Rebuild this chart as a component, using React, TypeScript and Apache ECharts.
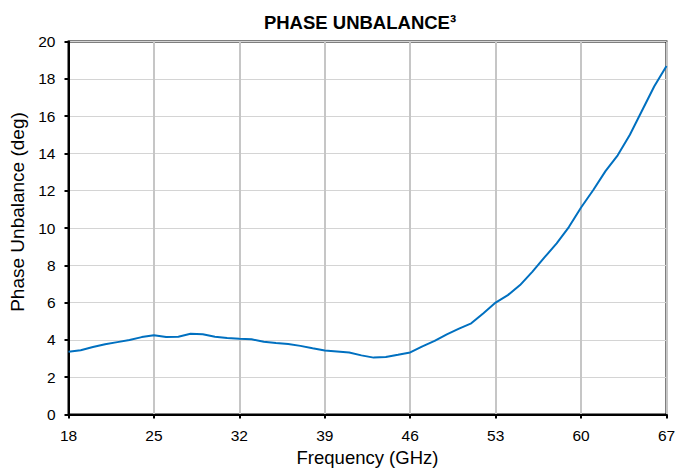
import React, { useEffect, useRef } from "react";
import * as echarts from "echarts";

const FREQ_MIN = 18;
const FREQ_MAX = 67;
const FREQ_STEP = 7;
const Y_MIN = 0;
const Y_MAX = 20;
const Y_STEP = 2;

const freqGHz = [
  18, 19, 20, 21, 22, 23, 24, 25, 26, 27, 28, 29, 30, 31, 32, 33, 34, 35, 36, 37,
  38, 39, 40, 41, 42, 43, 44, 45, 46, 47, 48, 49, 50, 51, 52, 53, 54, 55, 56, 57,
  58, 59, 60, 61, 62, 63, 64, 65, 66, 67,
];
const phaseUnbalanceDeg = [
  3.37, 3.45, 3.62, 3.77, 3.88, 3.99, 4.15, 4.25, 4.15, 4.17, 4.33, 4.3, 4.17, 4.1,
  4.06, 4.03, 3.9, 3.83, 3.78, 3.68, 3.55, 3.43, 3.38, 3.32, 3.17, 3.05, 3.08, 3.2,
  3.33, 3.65, 3.95, 4.3, 4.6, 4.89, 5.43, 6.0, 6.4, 6.94, 7.65, 8.42, 9.18, 10.05,
  11.1, 12.04, 13.05, 13.9, 15.0, 16.3, 17.6, 18.69,
];

const TITLE = "PHASE UNBALANCE³";
const X_NAME = "Frequency (GHz)";
const Y_NAME = "Phase Unbalance (deg)";

export default function App() {
  const ref = useRef<HTMLDivElement>(null);
  useEffect(() => {
    if (!ref.current) return;
    const chart = echarts.init(ref.current, null, { renderer: "svg" });
    const font = "'Liberation Sans', Arial, sans-serif";
    chart.setOption({
      animation: false,
      backgroundColor: "#ffffff",
      textStyle: { fontFamily: font },
      title: {
        text: TITLE,
        left: 355,
        top: 8,
        textAlign: "center",
        textStyle: { fontFamily: font, fontSize: 18.5, fontWeight: "bold", color: "#000" },
      },
      grid: {
        left: 68.5,
        right: 20.5,
        top: 41.5,
        bottom: 54.5,
        show: true,
        borderColor: "#000",
        borderWidth: 2,
        containLabel: false,
        outerBoundsMode: "none",
      },
      xAxis: {
        type: "value",
        min: 0,
        max: FREQ_MAX - FREQ_MIN,
        interval: FREQ_STEP,
        name: X_NAME,
        nameLocation: "middle",
        nameGap: 28,
        nameTextStyle: { fontFamily: font, fontSize: 18.5, color: "#000" },
        axisLine: { show: true, onZero: false, lineStyle: { color: "#000", width: 2 } },
        axisTick: { show: true, inside: false, length: 4, lineStyle: { color: "#000", width: 2 } },
        axisLabel: {
          margin: 13,
          fontFamily: font,
          fontSize: 15.5,
          color: "#000",
          formatter: (v: number) => String(v + FREQ_MIN),
        },
        splitLine: { show: true, lineStyle: { color: "#c6c6c6", width: 2 } },
      },
      yAxis: {
        type: "value",
        min: Y_MIN,
        max: Y_MAX,
        interval: Y_STEP,
        name: Y_NAME,
        nameLocation: "middle",
        nameGap: 36,
        nameTextStyle: { fontFamily: font, fontSize: 19, color: "#000", padding: [0, 0, 0, 32] },
        axisLine: { show: true, lineStyle: { color: "#000", width: 2 } },
        axisTick: { show: true, inside: false, length: 4, lineStyle: { color: "#000", width: 2 } },
        axisLabel: { margin: 13, fontFamily: font, fontSize: 15.5, color: "#000" },
        splitLine: { show: true, lineStyle: { color: "#d4d4d4", width: 1 } },
      },
      series: [
        {
          type: "line",
          data: freqGHz.map((f, i) => [f - FREQ_MIN, phaseUnbalanceDeg[i]]),
          showSymbol: false,
          symbol: "none",
          lineStyle: { color: "#0070c0", width: 2 },
          itemStyle: { color: "#0070c0" },
          z: 5,
        },
      ],
    });
    return () => chart.dispose();
  }, []);
  return (
    <div
      ref={ref}
      style={{ position: "fixed", left: 0, top: 0, width: 687, height: 469, background: "#fff" }}
    />
  );
}
